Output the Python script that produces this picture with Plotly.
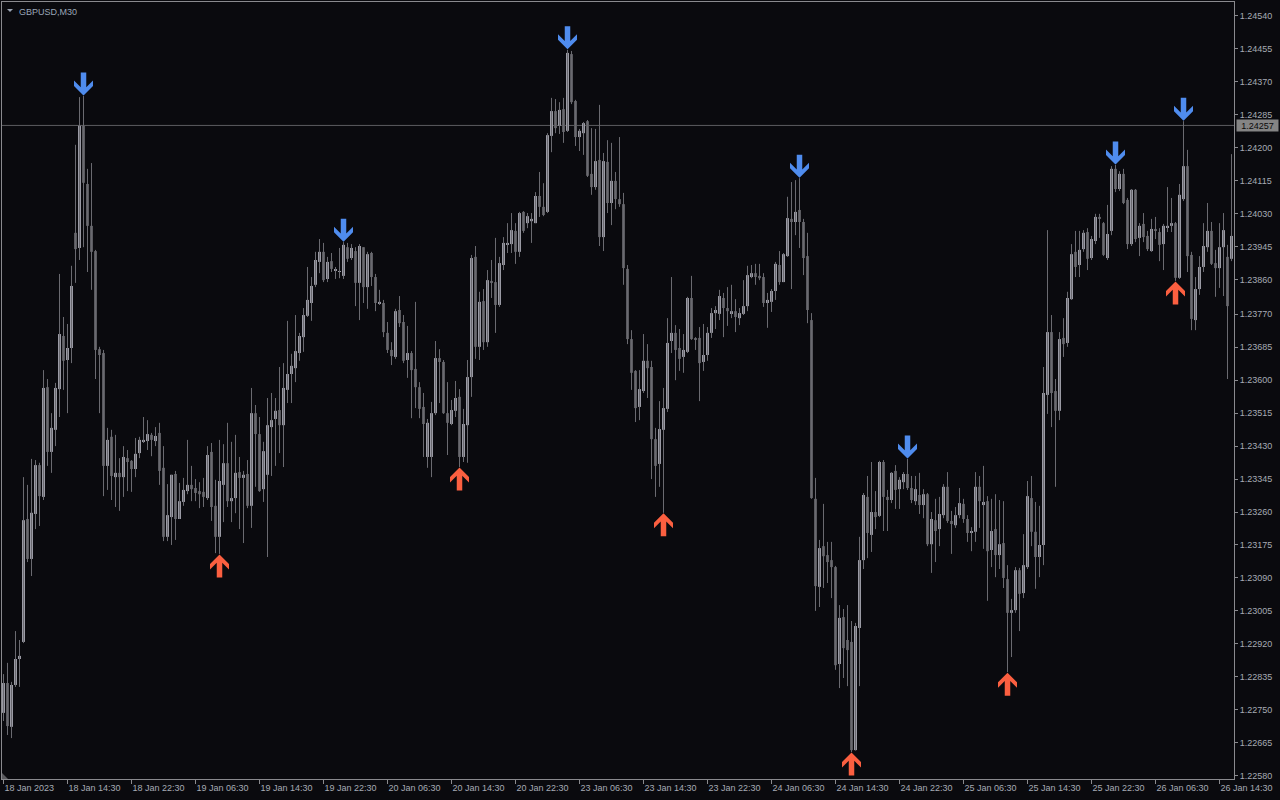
import plotly.graph_objects as go

# ---------------- data (GBPUSD, M30, one value per bar) ----------------
open_ = [
 1.22742,1.22819,1.22706,1.22814,1.22881,1.22925,1.23242,1.23139,1.23255,1.23381,
 1.23299,1.23582,1.23415,1.23472,1.23577,1.23714,1.23652,1.23683,1.23980,1.23941,
 1.24256,1.24106,1.23998,1.23933,1.23680,1.23670,1.23379,1.23454,1.23350,1.23361,
 1.23350,1.23399,1.23392,1.23371,1.23412,1.23441,1.23443,1.23459,1.23443,1.23464,
 1.23374,1.23196,1.23247,1.23358,1.23242,1.23286,1.23314,1.23330,1.23322,1.23314,
 1.23312,1.23296,1.23415,1.23276,1.23196,1.23330,1.23386,1.23288,1.23296,1.23363,
 1.23348,1.23358,1.23276,1.23515,1.23461,1.23319,1.23356,1.23479,1.23500,1.23523,
 1.23484,1.23575,1.23616,1.23631,1.23670,1.23711,1.23766,1.23799,1.23846,1.23905,
 1.23931,1.23861,1.23907,1.23884,1.23879,1.23869,1.23943,1.23915,1.23933,1.23851,
 1.23943,1.23840,1.23928,1.23866,1.23799,1.23799,1.23722,1.23678,1.23660,1.23781,
 1.23750,1.23652,1.23670,1.23629,1.23582,1.23531,1.23402,1.23402,1.23515,1.23657,
 1.23647,1.23515,1.23487,1.23521,1.23557,1.23402,1.23484,1.23608,1.23918,1.23686,
 1.23804,1.23698,1.23856,1.23853,1.23794,1.23897,1.23949,1.23951,1.23985,1.23931,
 1.24034,1.24005,1.24010,1.24005,1.24075,1.24047,1.24034,1.24230,1.24294,1.24256,
 1.24299,1.24243,1.24441,1.24320,1.24227,1.24237,1.24268,1.24132,1.24098,1.24168,
 1.23969,1.24163,1.24057,1.24114,1.24067,1.24054,1.23887,1.23706,1.23624,1.23531,
 1.23572,1.23650,1.23634,1.23448,1.23384,1.23472,1.23526,1.23701,1.23722,1.23683,
 1.23660,1.23673,1.23812,1.23706,1.23709,1.23647,1.23665,1.23722,1.23773,1.23771,
 1.23812,1.23786,1.23773,1.23778,1.23760,1.23771,1.23791,1.23866,1.23876,1.23869,
 1.23866,1.23799,1.23802,1.23830,1.23897,1.23853,1.23920,1.24016,1.24008,1.24039,
 1.24008,1.23920,1.23755,1.23294,1.23067,1.23172,1.23149,1.23136,1.23118,1.22868,
 1.22989,1.22930,1.22925,1.22646,1.22961,1.23136,1.23299,1.23201,1.23260,1.23250,
 1.23389,1.23299,1.23291,1.23366,1.23319,1.23337,1.23358,1.23322,1.23288,1.23304,
 1.23278,1.23306,1.23177,1.23239,1.23216,1.23252,1.23325,1.23237,1.23226,1.23252,
 1.23281,1.23242,1.23206,1.23209,1.23325,1.23278,1.23288,1.23162,1.23216,1.23149,
 1.23180,1.23087,1.23000,1.23007,1.23110,1.23051,1.23118,1.23296,1.23209,1.23144,
 1.23175,1.23562,1.23724,1.23572,1.23521,1.23709,1.23696,1.23809,1.23931,1.23897,
 1.23938,1.23982,1.23915,1.23959,1.24021,1.24005,1.23915,1.23985,1.24145,1.24093,
 1.24132,1.24065,1.23951,1.24091,1.23967,1.24003,1.23972,1.23933,1.23990,1.23982,
 1.23951,1.23995,1.23998,1.24005,1.23864,1.24067,1.24152,1.23923,1.23755,1.23835,
 1.23892,1.23943,1.23985,1.23902,1.23889,1.23943,1.23918,1.23913]

high = [
 1.22842,1.22871,1.22822,1.22953,1.22930,1.23350,1.23330,1.23397,1.23394,1.23387,
 1.23626,1.23603,1.23515,1.23593,1.23874,1.23763,1.23745,1.23895,1.24207,1.24330,
 1.24333,1.24145,1.24160,1.23936,1.23686,1.23678,1.23477,1.23472,1.23459,1.23399,
 1.23430,1.23420,1.23394,1.23451,1.23454,1.23505,1.23497,1.23464,1.23479,1.23490,
 1.23430,1.23332,1.23356,1.23366,1.23335,1.23348,1.23446,1.23379,1.23345,1.23337,
 1.23348,1.23430,1.23438,1.23343,1.23446,1.23435,1.23490,1.23441,1.23459,1.23402,
 1.23366,1.23394,1.23580,1.23536,1.23505,1.23441,1.23554,1.23567,1.23554,1.23634,
 1.23644,1.23753,1.23668,1.23768,1.23722,1.23786,1.23892,1.23866,1.23931,1.23964,
 1.23954,1.23918,1.23928,1.23892,1.23941,1.23956,1.23954,1.23951,1.23943,1.23951,
 1.23943,1.23931,1.23931,1.23874,1.23833,1.23807,1.23750,1.23698,1.23784,1.23817,
 1.23768,1.23740,1.23675,1.23802,1.23595,1.23567,1.23500,1.23544,1.23701,1.23680,
 1.23652,1.23595,1.23549,1.23598,1.23577,1.23526,1.23652,1.23923,1.23946,1.23828,
 1.23835,1.23884,1.23910,1.23967,1.23918,1.23969,1.24005,1.24031,1.24005,1.24034,
 1.24036,1.24031,1.24031,1.24085,1.24137,1.24108,1.24237,1.24328,1.24325,1.24317,
 1.24328,1.24452,1.24449,1.24323,1.24248,1.24266,1.24271,1.24250,1.24248,1.24310,
 1.24186,1.24219,1.24212,1.24137,1.24227,1.24083,1.23897,1.23729,1.23626,1.23626,
 1.23719,1.23693,1.23650,1.23477,1.23546,1.23580,1.23760,1.23866,1.23742,1.23732,
 1.23719,1.23815,1.23869,1.23711,1.23737,1.23745,1.23737,1.23786,1.23791,1.23833,
 1.23825,1.23840,1.23846,1.23809,1.23786,1.23858,1.23895,1.23897,1.23900,1.23900,
 1.23876,1.23825,1.23835,1.23905,1.23933,1.23928,1.24073,1.24111,1.24116,1.24121,
 1.24016,1.23980,1.23773,1.23348,1.23188,1.23281,1.23183,1.23183,1.23121,1.23020,
 1.23010,1.23020,1.22979,1.22974,1.23196,1.23309,1.23353,1.23389,1.23314,1.23392,
 1.23394,1.23317,1.23363,1.23381,1.23350,1.23363,1.23397,1.23353,1.23353,1.23361,
 1.23319,1.23309,1.23260,1.23294,1.23299,1.23332,1.23363,1.23263,1.23273,1.23322,
 1.23294,1.23252,1.23221,1.23363,1.23353,1.23379,1.23301,1.23294,1.23306,1.23291,
 1.23288,1.23123,1.23036,1.23118,1.23116,1.23203,1.23340,1.23353,1.23286,1.23276,
 1.23634,1.23987,1.23768,1.23603,1.23724,1.23760,1.23828,1.23951,1.23985,1.23985,
 1.23987,1.23992,1.23972,1.24029,1.24029,1.24008,1.24052,1.24152,1.24155,1.24139,
 1.24145,1.24070,1.24093,1.24093,1.24005,1.24031,1.23985,1.24016,1.24021,1.23992,
 1.24003,1.24098,1.24070,1.24008,1.24106,1.24268,1.24194,1.23931,1.23866,1.23920,
 1.24005,1.24057,1.24008,1.23936,1.24005,1.24031,1.23949,1.24183]

low = [
 1.22721,1.22685,1.22677,1.22809,1.22809,1.22922,1.23131,1.23095,1.23216,1.23224,
 1.23291,1.23379,1.23361,1.23430,1.23505,1.23575,1.23515,1.23644,1.23851,1.23910,
 1.23943,1.23879,1.23833,1.23603,1.23515,1.23301,1.23317,1.23291,1.23273,1.23263,
 1.23299,1.23314,1.23312,1.23350,1.23399,1.23438,1.23420,1.23404,1.23430,1.23330,
 1.23185,1.23185,1.23175,1.23188,1.23242,1.23276,1.23306,1.23288,1.23288,1.23270,
 1.23273,1.23291,1.23237,1.23154,1.23152,1.23234,1.23273,1.23234,1.23257,1.23216,
 1.23180,1.23270,1.23219,1.23325,1.23312,1.23286,1.23144,1.23353,1.23379,1.23412,
 1.23376,1.23541,1.23541,1.23595,1.23650,1.23673,1.23763,1.23753,1.23840,1.23876,
 1.23853,1.23853,1.23879,1.23861,1.23863,1.23861,1.23905,1.23910,1.23791,1.23755,
 1.23799,1.23784,1.23843,1.23778,1.23794,1.23711,1.23670,1.23639,1.23655,1.23737,
 1.23644,1.23606,1.23502,1.23528,1.23502,1.23402,1.23374,1.23350,1.23510,1.23541,
 1.23513,1.23407,1.23484,1.23505,1.23376,1.23389,1.23387,1.23557,1.23655,1.23652,
 1.23678,1.23686,1.23812,1.23722,1.23789,1.23884,1.23928,1.23928,1.23900,1.23918,
 1.23980,1.23992,1.23954,1.24005,1.24021,1.24023,1.24031,1.24188,1.24237,1.24235,
 1.24212,1.24240,1.24312,1.24204,1.24191,1.24181,1.24124,1.24078,1.24091,1.23946,
 1.23933,1.24031,1.24000,1.24041,1.24047,1.23846,1.23693,1.23575,1.23492,1.23497,
 1.23567,1.23554,1.23345,1.23299,1.23325,1.23258,1.23518,1.23670,1.23600,1.23624,
 1.23619,1.23670,1.23704,1.23678,1.23546,1.23624,1.23650,1.23709,1.23732,1.23755,
 1.23711,1.23740,1.23760,1.23724,1.23742,1.23768,1.23778,1.23863,1.23846,1.23858,
 1.23789,1.23735,1.23776,1.23807,1.23846,1.23853,1.23918,1.23835,1.23974,1.23941,
 1.23871,1.23747,1.23294,1.23005,1.23015,1.23064,1.23077,1.23038,1.22853,1.22806,
 1.22832,1.22811,1.22641,1.22645,1.22811,1.23113,1.23141,1.23157,1.23216,1.23247,
 1.23211,1.23211,1.23283,1.23268,1.23268,1.23319,1.23317,1.23283,1.23278,1.23255,
 1.23244,1.23172,1.23103,1.23131,1.23172,1.23244,1.23232,1.23152,1.23219,1.23244,
 1.23232,1.23183,1.23159,1.23183,1.23219,1.23165,1.23031,1.23118,1.23092,1.23113,
 1.23064,1.22847,1.22886,1.23000,1.22953,1.23038,1.23113,1.23172,1.23062,1.23092,
 1.23123,1.23513,1.23479,1.23325,1.23497,1.23660,1.23686,1.23807,1.23866,1.23866,
 1.23931,1.23884,1.23910,1.23951,1.23967,1.23920,1.23910,1.23974,1.24085,1.24088,
 1.24054,1.23938,1.23946,1.23956,1.23920,1.23956,1.23933,1.23931,1.23964,1.23907,
 1.23884,1.23982,1.23982,1.23856,1.23861,1.24062,1.23879,1.23729,1.23729,1.23820,
 1.23879,1.23931,1.23897,1.23815,1.23838,1.23817,1.23603,1.23907]

close = [
 1.22819,1.22708,1.22814,1.22881,1.22889,1.23239,1.23139,1.23258,1.23381,1.23301,
 1.23580,1.23415,1.23477,1.23580,1.23719,1.23650,1.23683,1.23843,1.23938,1.24256,
 1.24109,1.23998,1.23931,1.23678,1.23665,1.23379,1.23446,1.23353,1.23361,1.23350,
 1.23402,1.23389,1.23371,1.23410,1.23446,1.23446,1.23461,1.23446,1.23456,1.23366,
 1.23196,1.23252,1.23356,1.23242,1.23288,1.23317,1.23330,1.23319,1.23309,1.23306,
 1.23299,1.23407,1.23273,1.23196,1.23340,1.23386,1.23288,1.23296,1.23361,1.23348,
 1.23356,1.23276,1.23515,1.23461,1.23314,1.23417,1.23484,1.23497,1.23521,1.23484,
 1.23580,1.23616,1.23637,1.23675,1.23714,1.23768,1.23807,1.23843,1.23910,1.23931,
 1.23858,1.23905,1.23887,1.23884,1.23879,1.23949,1.23913,1.23941,1.23851,1.23946,
 1.23840,1.23925,1.23866,1.23799,1.23802,1.23724,1.23678,1.23662,1.23778,1.23747,
 1.23650,1.23670,1.23626,1.23582,1.23526,1.23487,1.23490,1.23515,1.23657,1.23647,
 1.23515,1.23490,1.23523,1.23554,1.23402,1.23487,1.23608,1.23915,1.23686,1.23802,
 1.23698,1.23858,1.23853,1.23794,1.23902,1.23954,1.23954,1.23987,1.23931,1.24031,
 1.23985,1.24023,1.24016,1.24075,1.24047,1.24026,1.24232,1.24294,1.24250,1.24297,
 1.24240,1.24444,1.24317,1.24227,1.24243,1.24263,1.24127,1.24098,1.24165,1.23969,
 1.24165,1.24057,1.24114,1.24067,1.24054,1.23889,1.23706,1.23619,1.23528,1.23577,
 1.23650,1.23631,1.23448,1.23379,1.23474,1.23528,1.23696,1.23722,1.23678,1.23655,
 1.23678,1.23812,1.23706,1.23704,1.23644,1.23665,1.23722,1.23773,1.23781,1.23817,
 1.23786,1.23778,1.23778,1.23763,1.23773,1.23791,1.23871,1.23876,1.23866,1.23863,
 1.23799,1.23807,1.23830,1.23900,1.23853,1.23925,1.24018,1.24008,1.24034,1.24008,
 1.23915,1.23781,1.23296,1.23069,1.23167,1.23146,1.23131,1.23118,1.22865,1.22987,
 1.22909,1.22904,1.22646,1.22966,1.23136,1.23304,1.23206,1.23260,1.23247,1.23389,
 1.23299,1.23291,1.23361,1.23317,1.23343,1.23358,1.23322,1.23291,1.23319,1.23278,
 1.23306,1.23177,1.23242,1.23211,1.23255,1.23325,1.23237,1.23229,1.23252,1.23283,
 1.23242,1.23206,1.23211,1.23325,1.23288,1.23286,1.23159,1.23211,1.23149,1.23177,
 1.23090,1.23000,1.23007,1.23110,1.23049,1.23123,1.23301,1.23209,1.23144,1.23175,
 1.23567,1.23724,1.23567,1.23521,1.23706,1.23693,1.23812,1.23925,1.23892,1.23936,
 1.23980,1.23913,1.23964,1.24021,1.24016,1.23923,1.23977,1.24145,1.24093,1.24132,
 1.24057,1.23951,1.24091,1.23964,1.23998,1.23969,1.23938,1.23990,1.23985,1.23949,
 1.23998,1.23998,1.24005,1.23864,1.24078,1.24152,1.23920,1.23758,1.23835,1.23892,
 1.23946,1.23985,1.23900,1.23889,1.23943,1.23987,1.23791,1.23972]

time_labels = ["18 Jan 2023", "18 Jan 14:30", "18 Jan 22:30", "19 Jan 06:30", "19 Jan 14:30",
               "19 Jan 22:30", "20 Jan 06:30", "20 Jan 14:30", "20 Jan 22:30", "23 Jan 06:30",
               "23 Jan 14:30", "23 Jan 22:30", "24 Jan 06:30", "24 Jan 14:30", "24 Jan 22:30",
               "25 Jan 06:30", "25 Jan 14:30", "25 Jan 22:30", "26 Jan 06:30", "26 Jan 14:30"]
time_label_bars = [0, 16, 32, 48, 64, 80, 96, 112, 128, 144,
                   160, 176, 192, 208, 224, 240, 256, 272, 288, 304]

price_labels = ["1.24540", "1.24455", "1.24370", "1.24285", "1.24200", "1.24115", "1.24030",
                "1.23945", "1.23860", "1.23770", "1.23685", "1.23600", "1.23515", "1.23430",
                "1.23345", "1.23260", "1.23175", "1.23090", "1.23005", "1.22920", "1.22835",
                "1.22750", "1.22665", "1.22580"]

sell_signal_bars = [20, 85, 141, 199, 226, 278, 295]   # blue down arrows above the high
buy_signal_bars = [54, 114, 165, 212, 251, 293]        # red up arrows below the low
hline_price = 1.24257
chart_title = "GBPUSD,M30"

# ---------------- styling ----------------
BG = "#0a0a0e"
AXIS = "#8a8a8e"
TXT = "#a6abb4"
BULL = "#9a9aa4"
BEAR = "#5a5a5f"
WICK = "#6a6a70"
BLUE = "#4f8cee"
RED = "#fb5f40"
FONT = "Liberation Sans, Arial, sans-serif"
Y_RANGE = [1.225715, 1.245753]
X_RANGE = [-0.375, 307.625]
PX = (Y_RANGE[1] - Y_RANGE[0]) / 777.0   # price per pixel

n = len(close)
idx = list(range(n))

fig = go.Figure()

# wicks
wx, wy = [], []
for i in idx:
    wx += [i, i, None]
    wy += [low[i], high[i], None]
fig.add_trace(go.Scatter(x=wx, y=wy, mode="lines", line=dict(color=WICK, width=1),
                         hoverinfo="skip", showlegend=False))

bull = [i for i in idx if close[i] >= open_[i]]
bear = [i for i in idx if close[i] < open_[i]]
fig.add_trace(go.Bar(x=bull, base=[open_[i] for i in bull],
                     y=[max(close[i] - open_[i], PX) for i in bull],
                     width=0.75, marker=dict(color=BULL, line=dict(width=0)),
                     hoverinfo="skip", showlegend=False))
fig.add_trace(go.Bar(x=bear, base=[close[i] for i in bear],
                     y=[max(open_[i] - close[i], PX) for i in bear],
                     width=0.75, marker=dict(color=BEAR, line=dict(width=0)),
                     hoverinfo="skip", showlegend=False))

# arrow glyph outline (pixels, tip at origin, pointing down, body going up)
ARROW = [(0, 0), (9.5, 9.5), (9.5, 15), (2.75, 8.25), (2.75, 23), (-2.75, 23),
         (-2.75, 8.25), (-9.5, 15), (-9.5, 9.5)]


def arrow_path(sign, gap):
    pts = [(x, sign * (gap + y)) for x, y in ARROW]
    return "M" + "L".join(f"{x},{y}" for x, y in pts) + "Z"


shapes = []
shapes.append(dict(type="line", xref="paper", yref="y", x0=0, x1=1, y0=hline_price, y1=hline_price,
                   line=dict(color="#5c5c60", width=1), layer="below"))
for i in sell_signal_bars:
    shapes.append(dict(type="path", xref="x", yref="y", xsizemode="pixel", ysizemode="pixel",
                       xanchor=i, yanchor=high[i], path=arrow_path(1, 0.5),
                       fillcolor=BLUE, line=dict(width=0), layer="above"))
for i in buy_signal_bars:
    shapes.append(dict(type="path", xref="x", yref="y", xsizemode="pixel", ysizemode="pixel",
                       xanchor=i, yanchor=low[i], path=arrow_path(-1, 0.5),
                       fillcolor=RED, line=dict(width=0), layer="above"))
# small triangle before the symbol name
shapes.append(dict(type="path", xref="paper", yref="paper", xsizemode="pixel", ysizemode="pixel",
                   xanchor=0, yanchor=1, path="M5,-7L11,-7L8,-10Z",
                   fillcolor="#9aa3b2", line=dict(width=0)))
# corner marker bottom-left
shapes.append(dict(type="path", xref="paper", yref="paper", xsizemode="pixel", ysizemode="pixel",
                   xanchor=0, yanchor=0, path="M0,0L6,0L0,6Z",
                   fillcolor="#5a5a5e", line=dict(width=0)))

annotations = [
    dict(xref="paper", yref="paper", x=0, y=1, xanchor="left", yanchor="top",
         xshift=15, yshift=-3, text=chart_title, showarrow=False,
         font=dict(family=FONT, size=9, color="#9aa6b8")),
    dict(xref="paper", yref="y", x=1, y=hline_price, xanchor="left", yanchor="middle",
         xshift=2, text=f"{hline_price:.5f}", showarrow=False, bgcolor="#848484",
         width=39, height=9, borderpad=1, align="center",
         font=dict(family=FONT, size=9, color="#0a0a0a")),
]

fig.update_layout(
    width=1280, height=800,
    margin=dict(l=2, r=46, t=2, b=21, pad=0),
    paper_bgcolor=BG, plot_bgcolor=BG,
    barmode="overlay", showlegend=False,
    shapes=shapes, annotations=annotations,
    xaxis=dict(range=X_RANGE, showgrid=False, zeroline=False, showline=True, mirror=True,
               linecolor=AXIS, linewidth=1, ticks="outside", ticklen=4, tickcolor=AXIS,
               tickvals=time_label_bars, ticktext=time_labels, ticklabelposition="outside right",
               tickfont=dict(family=FONT, size=9, color=TXT), fixedrange=True),
    yaxis=dict(range=Y_RANGE, side="right", showgrid=False, zeroline=False, showline=True,
               mirror=True, linecolor=AXIS, linewidth=1, ticks="outside", ticklen=3,
               tickcolor=AXIS, tickvals=[float(s) for s in price_labels], ticktext=price_labels,
               tickfont=dict(family=FONT, size=9, color=TXT), fixedrange=True),
    hovermode=False,
)

fig.write_html(
    "out.html",
    config={"displayModeBar": False},
    post_script="document.body.style.margin='0';document.body.style.background='#0a0a0e';"
                "document.body.style.overflow='hidden';",
)
